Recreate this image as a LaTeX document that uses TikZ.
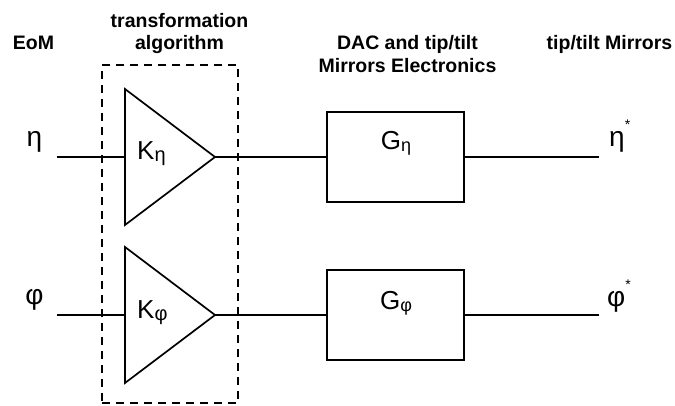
\documentclass[tikz,border=0pt]{standalone}
\usepackage{fontspec}
\setmainfont{Liberation Sans}
\newcommand\mysub[2]{\raisebox{-2pt}{\fontsize{#1}{#1}\selectfont #2}}
\newcommand\mystar{\raisebox{17pt}{\fontsize{14}{14}\selectfont *}}
\tikzset{
  hdr/.style={font=\fontsize{19.5}{22}\selectfont\bfseries, inner sep=0pt, anchor=base},
  gk/.style={font=\fontsize{28}{30}\selectfont, inner sep=0pt},
  blklab/.style={font=\fontsize{26}{28}\selectfont, inner sep=0pt, anchor=base},
  blk/.style={draw, line width=1.7pt, minimum width=137pt, minimum height=90pt, inner sep=0pt, outer sep=0pt},
  amp/.style={draw, line width=1.7pt, line join=miter},
  wire/.style={line width=1.7pt},
  dashbox/.style={draw, line width=2pt, dash pattern=on 8pt off 6pt, minimum width=136pt, minimum height=338pt, inner sep=0pt}
}
\begin{document}
\begin{tikzpicture}[x=1pt,y=-1pt]
\useasboundingbox (0,0) rectangle (675,406);

% headers
\node[hdr] (eom) at (33.5,50) {EoM};
\node[hdr] (alg1) at (179.5,28) {transformation};
\node[hdr] (alg2) at (179.5,50) {algorithm};
\node[hdr] (dac1) at (407.5,50) {DAC and tip/tilt};
\node[hdr] (dac2) at (407.5,73) {Mirrors Electronics};
\node[hdr] (tt) at (609.5,50) {tip/tilt Mirrors};

% dashed algorithm box
\node[dashbox] (alg) at (170,234) {};

% input / output labels
\node[gk, anchor=base] (etaIn) at (34.5,147) {η};
\node[gk, anchor=base] (phiIn) at (34.5,305) {φ};
\node[gk, anchor=base west] (etaOut) at (609,147) {η\mystar};
\node[gk, anchor=base west] (phiOut) at (607,306) {φ\mystar};

% wire end points
\coordinate (inEta) at (57,157);
\coordinate (inPhi) at (57,315);
\coordinate (outEta) at (599,157);
\coordinate (outPhi) at (599,315);

% amplifiers
\coordinate (K1in) at (125,157);
\coordinate (K1out) at (215,157);
\coordinate (K2in) at (125,315);
\coordinate (K2out) at (215,315);
\draw[amp] (125,89) -- (K1out) -- (125,225) -- cycle;
\draw[amp] (125,247) -- (K2out) -- (125,383) -- cycle;
\node[blklab, anchor=base west] (K1lab) at (137,160) {K\mysub{20}{η}};
\node[blklab, anchor=base west] (K2lab) at (137,318) {K\mysub{20}{φ}};

% blocks
\node[blk] (G1) at (395.5,157) {};
\node[blk] (G2) at (395.5,315) {};
\node[blklab] (G1lab) at (396,150) {G\mysub{18}{η}};
\node[blklab] (G2lab) at (396,309) {G\mysub{18}{φ}};

% wires
\draw[wire] (inEta) -- (K1in);
\draw[wire] (K1out) -- (G1.west);
\draw[wire] (G1.east) -- (outEta);
\draw[wire] (inPhi) -- (K2in);
\draw[wire] (K2out) -- (G2.west);
\draw[wire] (G2.east) -- (outPhi);
\end{tikzpicture}
\end{document}
